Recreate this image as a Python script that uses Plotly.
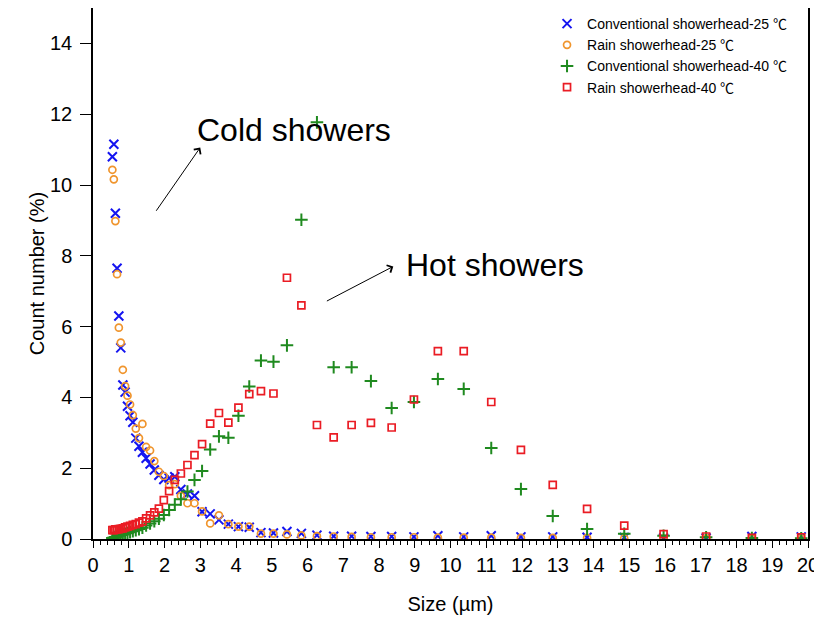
import plotly.graph_objects as go

# APS channel midpoints (µm)
size_um = [0.542, 0.583, 0.626, 0.673, 0.723, 0.777, 0.835, 0.898, 0.965, 1.037,
           1.114, 1.197, 1.286, 1.382, 1.486, 1.596, 1.715, 1.843, 1.981, 2.129,
           2.288, 2.458, 2.642, 2.839, 3.051, 3.278, 3.523, 3.786, 4.068, 4.371,
           4.698, 5.048, 5.425, 5.829, 6.264, 6.732, 7.234, 7.774, 8.354, 8.977,
           9.647, 10.37, 11.14, 11.97, 12.86, 13.82, 14.86, 15.96, 17.15, 18.43, 19.81]

conv_25 = [10.8, 11.15, 9.2, 7.65, 6.3, 5.4, 4.35, 4.15, 3.75, 3.48,
           3.30, 2.85, 2.62, 2.45, 2.28, 2.12, 1.95, 1.80, 1.68, 1.72,
           1.76, 1.40, 1.27, 1.22, 0.77, 0.71, 0.54, 0.42, 0.35, 0.33,
           0.18, 0.17, 0.21, 0.16, 0.11, 0.08, 0.08, 0.07, 0.07, 0.06,
           0.09, 0.06, 0.09, 0.06, 0.06, 0.05, 0.04, 0.03, 0.03, 0.07, 0.06]

rain_25 = [10.43, 10.16, 8.98, 7.48, 5.97, 5.55, 4.78, 4.32, 4.05, 3.80,
           3.50, 3.12, 2.85, 3.25, 2.60, 2.50, 2.20, 1.90, 1.78, 1.52,
           1.55, 1.22, 1.01, 1.01, 0.78, 0.44, 0.67, 0.42, 0.35, 0.35,
           0.15, 0.15, 0.13, 0.10, 0.08, 0.07, 0.06, 0.05, 0.05, 0.05,
           0.04, 0.04, 0.04, 0.03, 0.03, 0.03, 0.02, 0.02, 0.02, 0.01, 0.01]

conv_40 = [0.03, 0.04, 0.06, 0.07, 0.09, 0.11, 0.13, 0.15, 0.17, 0.19,
           0.22, 0.25, 0.28, 0.32, 0.38, 0.44, 0.50, 0.57, 0.68, 0.82,
           0.97, 1.12, 1.34, 1.67, 1.92, 2.53, 2.90, 2.86, 3.48, 4.31,
           5.04, 5.01, 5.47, 9.02, 11.77, 4.85, 4.85, 4.46, 3.70, 3.87,
           4.52, 4.24, 2.57, 1.41, 0.65, 0.28, 0.15, 0.09, 0.05, 0.03, 0.02]

rain_40 = [0.25, 0.25, 0.27, 0.27, 0.28, 0.29, 0.30, 0.33, 0.35, 0.37,
           0.40, 0.42, 0.46, 0.50, 0.58, 0.67, 0.75, 0.86, 1.10, 1.35,
           1.67, 1.85, 2.09, 2.37, 2.68, 3.26, 3.56, 3.29, 3.71, 4.09,
           4.18, 4.11, 7.38, 6.60, 3.22, 2.87, 3.22, 3.28, 3.15, 3.94,
           5.31, 5.31, 3.87, 2.52, 1.53, 0.85, 0.38, 0.14, 0.07, 0.03, 0.05]

series_names = ["Conventional showerhead-25 ℃", "Rain showerhead-25 ℃",
                "Conventional showerhead-40 ℃", "Rain showerhead-40 ℃"]

x_ticks = list(range(0, 21))
y_ticks = [0, 2, 4, 6, 8, 10, 12, 14]

FONT = "Arial, 'Liberation Sans', 'Noto Sans CJK SC', sans-serif"

fig = go.Figure()
fig.add_trace(go.Scatter(x=size_um, y=conv_25, mode="markers", name=series_names[0],
                         marker=dict(symbol="x-thin", size=9, color="rgba(0,0,0,0)",
                                     line=dict(color="#1414f0", width=2))))
fig.add_trace(go.Scatter(x=size_um, y=rain_25, mode="markers", name=series_names[1],
                         marker=dict(symbol="circle-open", size=7,
                                     line=dict(color="#f0952d", width=1.7), color="#f0952d")))
fig.add_trace(go.Scatter(x=size_um, y=conv_40, mode="markers", name=series_names[2],
                         marker=dict(symbol="cross-thin", size=9, color="rgba(0,0,0,0)",
                                     line=dict(color="#1f8a1f", width=2))))
fig.add_trace(go.Scatter(x=size_um, y=rain_40, mode="markers", name=series_names[3],
                         marker=dict(symbol="square-open", size=7,
                                     line=dict(color="#ea1c24", width=1.7), color="#ea1c24")))

# Annotations
fig.add_annotation(x=2.86, y=11.54, xref="x", yref="y", text="Cold showers",
                   showarrow=False, xanchor="left", yanchor="middle",
                   font=dict(family=FONT, size=32, color="black"))
fig.add_annotation(x=8.71, y=7.73, xref="x", yref="y", text="Hot showers",
                   showarrow=False, xanchor="left", yanchor="middle",
                   font=dict(family=FONT, size=32, color="black"))
fig.add_annotation(x=3.0, y=11.06, ax=1.74, ay=9.23, xref="x", yref="y",
                   axref="x", ayref="y", text="", showarrow=True,
                   arrowhead=4, arrowsize=1.6, arrowwidth=1, arrowcolor="black")
fig.add_annotation(x=8.4, y=7.7, ax=6.5, ay=6.7, xref="x", yref="y",
                   axref="x", ayref="y", text="", showarrow=True,
                   arrowhead=4, arrowsize=1.6, arrowwidth=1, arrowcolor="black")

fig.update_layout(
    width=822, height=625,
    margin=dict(l=85, r=22, t=0, b=94),
    paper_bgcolor="white", plot_bgcolor="white",
    font=dict(family=FONT, color="black"),
    showlegend=True,
    legend=dict(x=0.635, y=1.0, xanchor="left", yanchor="top",
                bgcolor="rgba(0,0,0,0)", font=dict(family=FONT, size=14, color="black"),
                tracegroupgap=0, itemwidth=30),
    xaxis=dict(range=[0, 20], tickmode="array", tickvals=x_ticks,
               ticktext=[str(v) for v in x_ticks], automargin=False,
               showgrid=False, zeroline=False, showline=True, linecolor="black",
               linewidth=1.5, mirror=True, ticks="outside", ticklen=7, tickwidth=1.3,
               tickcolor="black", tickfont=dict(family=FONT, size=20),
               minor=dict(dtick=0.2, ticks="outside", ticklen=4, tickwidth=1, tickcolor="black"),
               title=dict(text="Size (µm)", font=dict(family=FONT, size=20), standoff=22)),
    yaxis=dict(range=[0, 15], tickmode="array", tickvals=y_ticks,
               ticktext=[str(v) for v in y_ticks], automargin=False,
               showgrid=False, zeroline=False, showline=True, linecolor="black",
               linewidth=1.5, mirror=True, ticks="outside", ticklen=11, tickwidth=1.3,
               ticklabelstandoff=4,
               tickcolor="black", tickfont=dict(family=FONT, size=20),
               title=dict(text="Count number (%)", font=dict(family=FONT, size=20), standoff=0)),
)

fig.write_html("out.html")
